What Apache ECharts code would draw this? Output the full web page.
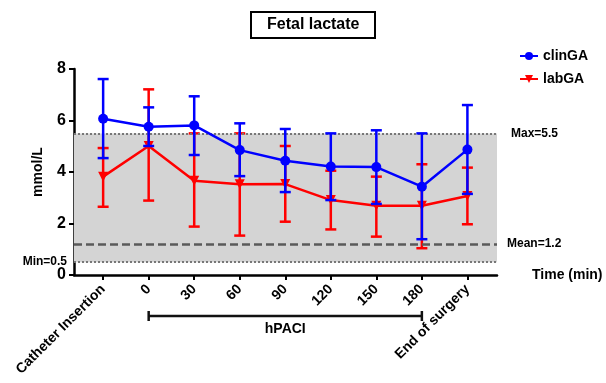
<!DOCTYPE html>
<html>
<head>
<meta charset="utf-8">
<script src="https://cdn.jsdelivr.net/npm/echarts@6/dist/echarts.min.js"></script>
<style>
html,body{margin:0;padding:0;background:#fff;}
#main{width:606px;height:383px;}
</style>
</head>
<body>
<div id="main"></div>
<script>
// categories along the time axis
var cats = ['Catheter Insertion', '0', '30', '60', '90', '120', '150', '180', 'End of surgery'];
// clinGA mean and error bar ends (mmol/L)
var clinMean = [6.07, 5.76, 5.81, 4.85, 4.44, 4.21, 4.19, 3.43, 4.87];
var clinHi = [7.61, 6.51, 6.94, 5.89, 5.67, 5.50, 5.62, 5.50, 6.60];
var clinLo = [4.54, 5.01, 4.66, 3.84, 3.22, 2.91, 2.76, 1.39, 3.15];
// labGA mean and error bar ends
var labMean = [3.82, 5.01, 3.66, 3.52, 3.53, 2.91, 2.69, 2.69, 3.07];
var labHi = [4.93, 7.21, 5.50, 5.50, 5.01, 4.05, 3.82, 4.30, 4.17];
var labLo = [2.65, 2.89, 1.88, 1.53, 2.07, 1.77, 1.49, 1.04, 1.97];
// reference range
var refMin = 0.5, refMax = 5.5, refMean = 1.2;
// hPACI span (category index from / to)
var hpaciSpan = [1, 7];

var FONT = "'Liberation Sans', Arial, sans-serif";
var idx = cats.map(function (c, i) { return i; });

function pts(arr) {
	return arr.map(function (v, i) { return [i, v]; });
}
function bars(lo, hi) {
	return lo.map(function (v, i) { return [i, v, hi[i]]; });
}

function errRender(color) {
	return function (params, api) {
		var x = api.value(0);
		var a = api.coord([x, api.value(1)]);
		var b = api.coord([x, api.value(2)]);
		var hw = 5.5;
		var st = { stroke: color, lineWidth: 2.5 };
		return {
			type: 'group',
			children: [
				{ type: 'line', shape: { x1: a[0], y1: a[1], x2: b[0], y2: b[1] }, style: st },
				{ type: 'line', shape: { x1: a[0] - hw, y1: a[1], x2: a[0] + hw, y2: a[1] }, style: st },
				{ type: 'line', shape: { x1: b[0] - hw, y1: b[1], x2: b[0] + hw, y2: b[1] }, style: st }
			]
		};
	};
}

var chart = echarts.init(document.getElementById('main'));
var option = {
	animation: false,
	textStyle: { fontFamily: FONT },
	title: {
		text: 'Fetal lactate',
		left: 251,
		top: 12,
		padding: [5, 16],
		borderColor: '#000',
		borderWidth: 2,
		textStyle: { fontFamily: FONT, fontSize: 16, fontWeight: 'bold', color: '#000' }
	},
	legend: {
		data: ['clinGA', 'labGA'],
		orient: 'vertical',
		left: 514,
		top: 44,
		itemWidth: 18,
		itemHeight: 10,
		itemGap: 9,
		textStyle: { fontFamily: FONT, fontSize: 14, fontWeight: 'bold', color: '#000' }
	},
	grid: { left: 74, right: 109, top: 69, bottom: 108 },
	xAxis: {
		type: 'value',
		min: -0.64,
		max: 8.65,
		splitLine: { show: false },
		axisLine: { onZero: false, lineStyle: { color: '#000', width: 2.5 } },
		axisTick: { show: true, customValues: idx, length: 5, lineStyle: { color: '#000', width: 2 } },
		axisLabel: {
			customValues: idx,
			rotate: 45,
			margin: 12,
			fontFamily: FONT,
			fontSize: 14,
			fontWeight: 'bold',
			color: '#000',
			formatter: function (v) { return cats[Math.round(v)]; }
		},
		name: 'Time (min)',
		nameLocation: 'end',
		nameGap: 35,
		nameTextStyle: { fontFamily: FONT, fontSize: 14, fontWeight: 'bold', color: '#000' }
	},
	yAxis: {
		type: 'value',
		min: 0,
		max: 8,
		interval: 2,
		splitLine: { show: false },
		axisLine: { show: true, onZero: false, lineStyle: { color: '#000', width: 2.5 } },
		axisTick: { show: true, length: 5, lineStyle: { color: '#000', width: 2 } },
		axisLabel: { margin: 8, fontFamily: FONT, fontSize: 16, fontWeight: 'bold', color: '#000' },
		name: 'mmol/L',
		nameLocation: 'middle',
		nameGap: 29,
		nameTextStyle: { fontFamily: FONT, fontSize: 14, fontWeight: 'bold', color: '#000' }
	},
	series: [
		{
			// reference band + lines
			name: 'ref',
			type: 'line',
			data: [],
			z: 0,
			silent: true,
			markArea: {
				silent: true,
				itemStyle: { color: '#d4d4d4' },
				data: [[{ yAxis: refMin }, { yAxis: refMax }]]
			},
			markLine: {
				silent: true,
				symbol: 'none',
				label: { fontFamily: FONT, fontSize: 12, fontWeight: 'bold', color: '#000' },
				data: [
					{ yAxis: refMax, lineStyle: { type: 'dotted', color: '#777', width: 2 }, label: { formatter: 'Max=5.5', position: 'end', distance: 14 } },
					{ yAxis: refMean, lineStyle: { type: [8, 4], color: '#5a5a5a', width: 2.5 }, label: { formatter: 'Mean=1.2', position: 'end', distance: 10 } },
					{ yAxis: refMin, lineStyle: { type: 'dotted', color: '#777', width: 2 }, label: { formatter: 'Min=0.5', position: 'start', distance: 7 } }
				]
			}
		},
		{
			name: 'labGA',
			type: 'line',
			z: 3,
			data: pts(labMean),
			symbol: 'triangle',
			symbolRotate: 180,
			symbolSize: 10,
			itemStyle: { color: '#ff0000' },
			lineStyle: { color: '#ff0000', width: 2.5 }
		},
		{
			name: 'labGA',
			type: 'custom',
			z: 3,
			silent: true,
			data: bars(labLo, labHi),
			renderItem: errRender('#ff0000')
		},
		{
			name: 'clinGA',
			type: 'line',
			z: 5,
			data: pts(clinMean),
			symbol: 'circle',
			symbolSize: 10,
			itemStyle: { color: '#0000ff' },
			lineStyle: { color: '#0000ff', width: 2.5 }
		},
		{
			name: 'clinGA',
			type: 'custom',
			z: 5,
			silent: true,
			data: bars(clinLo, clinHi),
			renderItem: errRender('#0000ff')
		},
		{
			// hPACI bracket under the axis
			name: 'hpaci',
			type: 'custom',
			silent: true,
			clip: false,
			data: [hpaciSpan],
			renderItem: function (params, api) {
				var p1 = api.coord([api.value(0), 0]);
				var p2 = api.coord([api.value(1), 0]);
				var y = p1[1] + 41;
				var st = { stroke: '#111', lineWidth: 2.5 };
				return {
					type: 'group',
					children: [
						{ type: 'line', shape: { x1: p1[0], y1: y, x2: p2[0], y2: y }, style: st },
						{ type: 'line', shape: { x1: p1[0], y1: y - 5, x2: p1[0], y2: y + 5 }, style: st },
						{ type: 'line', shape: { x1: p2[0], y1: y - 5, x2: p2[0], y2: y + 5 }, style: st },
						{ type: 'text', style: { x: (p1[0] + p2[0]) / 2, y: y + 13, text: 'hPACI', align: 'center', verticalAlign: 'middle', font: 'bold 14px ' + FONT, fill: '#000' } }
					]
				};
			}
		}
	]
};
chart.setOption(option);
</script>
</body>
</html>
